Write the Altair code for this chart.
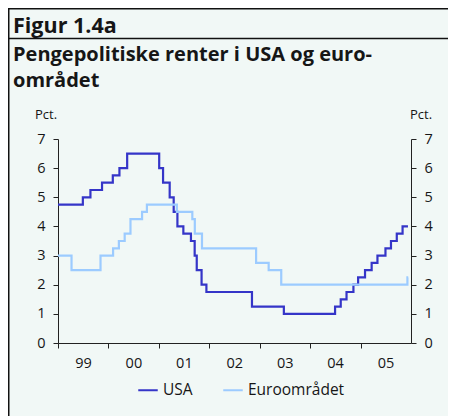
import altair as alt
import pandas as pd

# ---------------- data ----------------
usa_dates = ["1999-01-01", "1999-06-30", "1999-08-24", "1999-11-16", "2000-02-02",
             "2000-03-21", "2000-05-16", "2001-01-03", "2001-01-31", "2001-03-20",
             "2001-04-18", "2001-05-15", "2001-06-27", "2001-08-21", "2001-09-17",
             "2001-10-02", "2001-11-06", "2001-12-11", "2002-11-06", "2003-06-25",
             "2004-06-30", "2004-08-10", "2004-09-21", "2004-11-10", "2004-12-14",
             "2005-02-02", "2005-03-22", "2005-05-03", "2005-06-30", "2005-08-09",
             "2005-09-20", "2005-11-01", "2005-12-10"]
usa_rates = [4.75, 5.0, 5.25, 5.5, 5.75, 6.0, 6.5, 6.0, 5.5, 5.0,
             4.5, 4.0, 3.75, 3.5, 3.0, 2.5, 2.0, 1.75, 1.25, 1.0,
             1.25, 1.5, 1.75, 2.0, 2.25, 2.5, 2.75, 3.0, 3.25, 3.5,
             3.75, 4.0, 4.0]

euro_dates = ["1999-01-01", "1999-04-09", "1999-11-05", "2000-02-04", "2000-03-17",
              "2000-04-28", "2000-06-09", "2000-09-01", "2000-10-06", "2001-05-11",
              "2001-08-31", "2001-09-18", "2001-11-09", "2002-12-06", "2003-03-07",
              "2003-06-06", "2005-12-06", "2005-12-12"]
euro_rates = [3.0, 2.5, 3.0, 3.25, 3.5, 3.75, 4.25, 4.5, 4.75, 4.5,
              4.25, 3.75, 3.25, 2.75, 2.5, 2.0, 2.25, 2.25]

series_names = ["USA", "Euroområdet"]
series_colors = ["#3535c8", "#9ccbff"]
year_ticks = [1999, 2000, 2001, 2002, 2003, 2004, 2005]
y_ticks = [0, 1, 2, 3, 4, 5, 6, 7]

fig_label = "Figur 1.4a"
title_line1 = "Pengepolitiske renter i USA og euro-"
title_line2 = "området"
unit_label = "Pct."

df = pd.concat([
    pd.DataFrame({"date": usa_dates, "rate": usa_rates, "series": series_names[0]}),
    pd.DataFrame({"date": euro_dates, "rate": euro_rates, "series": series_names[1]}),
])

FONT = "Open Sans"
TXT = "#161616"

x_enc = alt.X(
    "date:T",
    scale=alt.Scale(type="utc",
                    domain=[alt.DateTime(year=1999, month=1, date=1, utc=True),
                            alt.DateTime(year=2006, month=1, date=1, utc=True)]),
    axis=alt.Axis(values=[alt.DateTime(year=y, month=1, date=1, utc=True) for y in year_ticks],
                  labelExpr="utcFormat(datum.value, '%y')", labelOffset=25, labelPadding=8,
                  title=None, labelAlign="center"),
)

y_scale = alt.Scale(domain=[0, 7], nice=False)

lines = alt.Chart(df).mark_line(interpolate="step-after", strokeWidth=2.2).encode(
    x=x_enc,
    y=alt.Y("rate:Q", scale=y_scale,
            axis=alt.Axis(values=y_ticks, orient="left", title=None, labelPadding=8)),
    color=alt.Color("series:N",
                    scale=alt.Scale(domain=series_names, range=series_colors),
                    legend=alt.Legend(orient="none", legendX=79, legendY=240,
                                      direction="horizontal", title=None,
                                      symbolType="stroke", symbolSize=380,
                                      symbolStrokeWidth=2, labelFontSize=15.5,
                                      labelFont=FONT, labelColor=TXT,
                                      labelOffset=4, columnPadding=26, padding=0)),
    detail="series:N",
)

right_axis = alt.Chart(df).mark_point(opacity=0).encode(
    x=x_enc,
    y=alt.Y("rate:Q", scale=y_scale,
            axis=alt.Axis(values=y_ticks, orient="right", title=None, labelPadding=8)),
)

one = pd.DataFrame({"k": [0]})

def txt(text, x, y, size, weight="normal", align="left", baseline="alphabetic"):
    return alt.Chart(one).mark_text(
        text=text, font=FONT, fontSize=size, fontWeight=weight, color=TXT,
        align=align, baseline=baseline,
    ).encode(x=alt.value(x), y=alt.value(y))

texts = [
    txt(fig_label, -45, -106, 21.5, "bold"),
    txt(title_line1, -45, -78, 20, "bold"),
    txt(title_line2, -45, -52, 20, "bold"),
    txt(unit_label, -23, -20, 13),
    txt(unit_label, 352, -20, 13),
]

frame_col = "#111111"
frame = [
    alt.Chart(one).mark_rule(color=frame_col, strokeWidth=1.5).encode(
        x=alt.value(-50), x2=alt.value(392), y=alt.value(-130.25)),
    alt.Chart(one).mark_rule(color=frame_col, strokeWidth=1.5).encode(
        x=alt.value(-50), x2=alt.value(392), y=alt.value(-100.5)),
    alt.Chart(one).mark_rule(color=frame_col, strokeWidth=1.8).encode(
        x=alt.value(-49.4), y=alt.value(-131), y2=alt.value(280)),
]

chart = alt.layer(lines, right_axis, *texts, *frame).resolve_axis(
    y="independent"
).properties(
    width=353, height=204,
    autosize=alt.AutoSizeParams(type="none"),
    padding={"left": 50, "top": 131, "right": 37, "bottom": 73},
    background="#f1f8f6",
).configure_view(stroke=None).configure_axis(
    grid=False, domainColor="#222222", tickColor="#222222", labelColor=TXT,
    labelFont=FONT, labelFontSize=14.5, tickSize=5, domainWidth=1, tickWidth=1,
)

chart.save("out.html", embed_options={"renderer": "svg", "actions": False})
